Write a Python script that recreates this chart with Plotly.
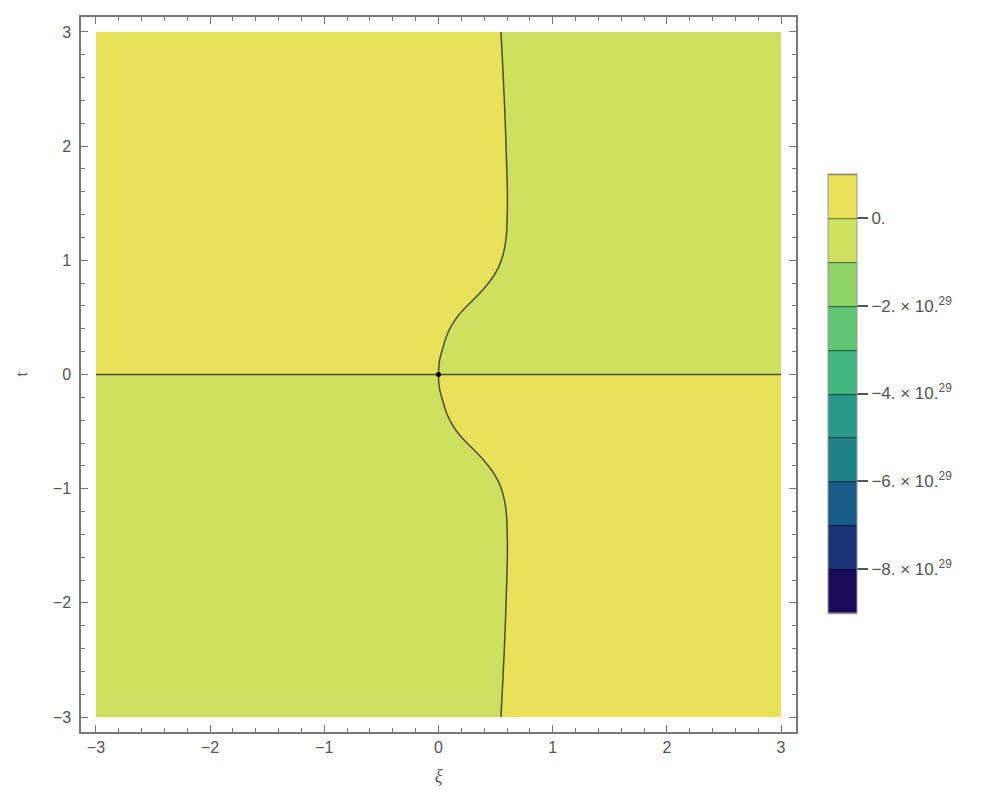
import plotly.graph_objects as go

# zero-level curve (upper branch, t >= 0); lower branch is its mirror
t_upper = [0.0, 0.112, 0.229, 0.346, 0.434, 0.521, 0.609, 0.667, 0.755, 0.843, 0.930,
           1.018, 1.105, 1.222, 1.397, 1.6, 1.9, 2.273, 2.65, 3.0]
xi_upper = [0.0, 0.007, 0.037, 0.074, 0.118, 0.177, 0.259, 0.318, 0.400, 0.469, 0.521,
            0.556, 0.578, 0.595, 0.602, 0.603, 0.595, 0.582, 0.565, 0.547]

# full curve from t=-3 to t=3
t_curve = [-v for v in t_upper[::-1]] + t_upper[1:]
xi_curve = xi_upper[::-1] + xi_upper[1:]

# contour levels of the legend, in units of 10^29
levels_e29 = [-9, -8, -7, -6, -5, -4, -3, -2, -1, 0, 1]
band_colors = ["#1b0a5c", "#1a3378", "#185b87", "#1e8287", "#28998a",
               "#42b47f", "#62c474", "#8ed469", "#cde060", "#e8e15a"]
cb_tickvals = [0, -2, -4, -6, -8]
cb_ticktext = ["0."] + ["\u2212%d. \u00d7 10.<sup>29</sup>" % k for k in (2, 4, 6, 8)]

x_ticks = [-3, -2, -1, 0, 1, 2, 3]
x_ticktext = ["\u22123", "\u22122", "\u22121", "0", "1", "2", "3"]

YELLOW = band_colors[-1]
GREEN = band_colors[-2]
LINE = "rgba(50,50,40,0.85)"
GRAY = "#777777"
TXT = "#555555"
FONT = "Liberation Sans, Arial"

fig = go.Figure()

upper_t = [v for v in t_curve if v >= 0]
upper_xi = [xi_curve[i] for i, v in enumerate(t_curve) if v >= 0]
lower_t = [v for v in t_curve if v <= 0]
lower_xi = [xi_curve[i] for i, v in enumerate(t_curve) if v <= 0]

# upper-left: positive (yellow), upper-right: negative (green)
fig.add_trace(go.Scatter(x=[-3] + upper_xi + [-3], y=[0] + upper_t + [3], fill="toself",
                         fillcolor=YELLOW, line=dict(width=0), mode="lines", hoverinfo="skip"))
fig.add_trace(go.Scatter(x=[3] + upper_xi + [3], y=[0] + upper_t + [3], fill="toself",
                         fillcolor=GREEN, line=dict(width=0), mode="lines", hoverinfo="skip"))
# lower-left: negative (green), lower-right: positive (yellow)
fig.add_trace(go.Scatter(x=[-3] + lower_xi + [-3], y=[-3] + lower_t + [0], fill="toself",
                         fillcolor=GREEN, line=dict(width=0), mode="lines", hoverinfo="skip"))
fig.add_trace(go.Scatter(x=[3] + lower_xi + [3], y=[-3] + lower_t + [0], fill="toself",
                         fillcolor=YELLOW, line=dict(width=0), mode="lines", hoverinfo="skip"))

# zero contours
fig.add_trace(go.Scatter(x=xi_curve, y=t_curve, mode="lines",
                         line=dict(color=LINE, width=1.5, shape="spline", smoothing=1.0),
                         hoverinfo="skip"))
fig.add_trace(go.Scatter(x=[-3, 3], y=[0, 0], mode="lines",
                         line=dict(color=LINE, width=1.5), hoverinfo="skip"))
fig.add_trace(go.Scatter(x=[0], y=[0], mode="markers",
                         marker=dict(color="black", size=5), hoverinfo="skip"))

# contour trace only used for its colour bar (placed outside the visible range)
n = len(band_colors)
cscale = []
for i, c in enumerate(band_colors):
    cscale.append([i / n, c])
    cscale.append([(i + 1) / n, c])
fig.add_trace(go.Contour(
    x=[10, 11], y=[10, 11],
    z=[[levels_e29[0], levels_e29[-1]], [levels_e29[0], levels_e29[-1]]],
    zmin=levels_e29[0], zmax=levels_e29[-1], autocontour=False,
    contours=dict(start=levels_e29[0], end=levels_e29[-1], size=1, coloring="fill"),
    colorscale=cscale, line=dict(color="rgba(0,0,0,0.45)", width=1.2),
    hoverinfo="skip",
    colorbar=dict(
        x=1.0448, xanchor="left", xpad=0, y=0.4734, yanchor="middle", ypad=0,
        len=0.614, lenmode="fraction", thickness=29, thicknessmode="pixels",
        outlinewidth=1, outlinecolor="#999999",
        tickmode="array", tickvals=cb_tickvals, ticktext=cb_ticktext,
        ticks="outside", ticklen=11, tickcolor="#555555", tickwidth=1.5,
        tickfont=dict(family=FONT, size=17, color=TXT),
    ),
))

axis_common = dict(
    range=[-3.131, 3.131], showgrid=False, zeroline=False, automargin=False,
    showline=True, linecolor=GRAY, linewidth=1.5, mirror="ticks",
    ticks="inside", ticklen=7, tickwidth=1.2, tickcolor=GRAY,
    tickmode="array", tickvals=x_ticks, ticktext=x_ticktext,
    minor=dict(tickmode="linear", tick0=0, dtick=0.2, ticks="inside", ticklen=4,
               tickcolor=GRAY, tickwidth=1),
    tickfont=dict(family=FONT, size=16, color=TXT),
)

# the page body adds an 8px offset, so margins are shifted to keep the frame in place
fig.update_layout(
    width=996, height=805,
    margin=dict(l=73, r=208, t=9, b=81),
    paper_bgcolor="white", plot_bgcolor="white",
    showlegend=False,
    xaxis=dict(axis_common, ticklabelstandoff=0,
               title=dict(text="\u03be", standoff=14,
                          font=dict(family="Liberation Serif", size=18, color=TXT, style="italic"))),
    yaxis=dict(axis_common, ticklabelstandoff=5,
               title=dict(text="t", standoff=22, font=dict(family=FONT, size=15, color=TXT))),
)

fig.write_html("out.html")
